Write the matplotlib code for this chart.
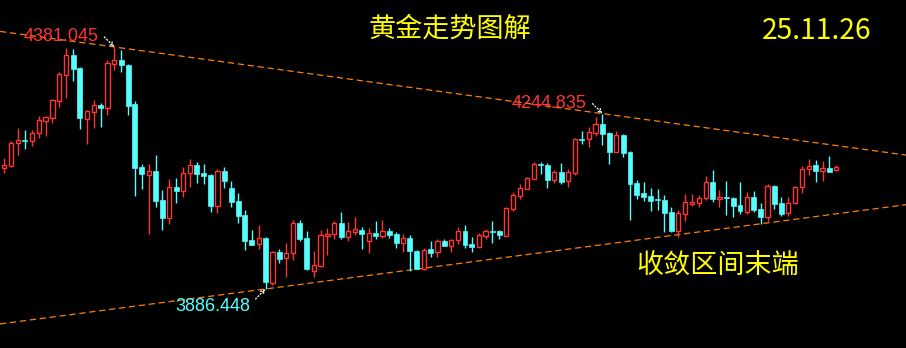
import matplotlib

matplotlib.use("Agg")

import numpy as np
import matplotlib.pyplot as plt

# gold candles, oldest first
opens = [4134, 4138, 4184, 4191, 4188, 4206, 4230, 4236, 4271, 4324,
         4365, 4338, 4234, 4249, 4262, 4257, 4347, 4354, 4344, 4264,
         4136, 4120, 4128, 4068, 4031, 4095, 4087, 4123, 4140, 4123,
         4119, 4057, 4128, 4093, 4066, 4038, 3986, 3979, 3991, 3899,
         3962, 3949, 3959, 4021, 3990, 3924, 3934, 3995, 3998, 4021,
         3992, 4003, 4008, 3985, 4000, 3995, 4004, 3999, 3981, 3990,
         3965, 3928, 3968, 3961, 3984, 3975, 3986, 4005, 3978, 3973,
         3995, 4005, 4005, 3995, 4050, 4077, 4091, 4112, 4142, 4140,
         4109, 4125, 4108, 4124, 4194, 4192, 4206, 4224, 4205, 4167,
         4202, 4166, 4103, 4082, 4076, 4070, 4068, 4044, 4005, 4040,
         4061, 4063, 4072, 4106, 4071, 4074, 4072, 4058, 4044, 4074,
         4050, 4034, 4097, 4062, 4041, 4062, 4094, 4131, 4140, 4128,
         4134, 4129]
highs = [4154, 4188, 4216, 4211, 4211, 4240, 4241, 4274, 4329, 4379,
         4376, 4340, 4252, 4273, 4266, 4354, 4381.045, 4375, 4346, 4271,
         4142, 4142, 4160, 4089, 4111, 4113, 4136, 4152, 4146, 4142,
         4122, 4131, 4136, 4107, 4083, 4048, 4007, 4017, 3992, 3965,
         3968, 3980, 4027, 4027, 4005, 3964, 4008, 4012, 4025, 4043,
         4023, 4033, 4013, 4012, 4025, 4027, 4012, 4003, 3999, 3997,
         3967, 3970, 3984, 3988, 3989, 3989, 4013, 4017, 3993, 4000,
         4010, 4025, 4008, 4055, 4085, 4102, 4116, 4145, 4145, 4144,
         4130, 4144, 4132, 4195, 4209, 4218, 4237, 4244.835, 4207, 4209,
         4203, 4168, 4109, 4105, 4093, 4091, 4078, 4053, 4048, 4081,
         4081, 4078, 4117, 4130, 4089, 4107, 4075, 4105, 4085, 4087,
         4062, 4100, 4099, 4074, 4074, 4096, 4138, 4153, 4150, 4147,
         4158, 4140]
lows = [4124, 4136, 4160, 4173, 4179, 4195, 4199, 4226, 4259, 4277,
        4312, 4214, 4183, 4216, 4217, 4243, 4335, 4330, 4242, 4076,
        4091, 3999, 4053, 4007, 4019, 4063, 4075, 4095, 4104, 4102,
        4044, 4042, 4093, 4055, 4022, 3967, 3976, 3969, 3886.448, 3895,
        3940, 3911, 3946, 3985, 3926, 3911, 3931, 3956, 3988, 3988,
        3985, 3997, 3969, 3959, 3989, 3991, 3991, 3970, 3963, 3923,
        3927, 3925, 3952, 3952, 3974, 3961, 3979, 3971, 3961, 3972,
        3988, 3981, 3989, 3994, 4046, 4070, 4090, 4111, 4121, 4093,
        4103, 4100, 4095, 4119, 4183, 4177, 4200, 4181, 4142, 4166,
        4156, 4028, 4071, 4067, 4046, 4047, 4003, 4003, 3993, 4026,
        4056, 4053, 4068, 4064, 4053, 4038, 4034, 4040, 4040, 4044,
        4019, 4026, 4050, 4036, 4036, 4061, 4083, 4120, 4105, 4108,
        4125, 4128]
closes = [4139, 4184, 4191, 4189, 4205, 4231, 4237, 4273, 4326, 4364,
          4336, 4235, 4250, 4262, 4257, 4348, 4354, 4345, 4260, 4134,
          4121, 4127, 4066, 4031, 4094, 4087, 4123, 4140, 4122, 4118,
          4057, 4127, 4108, 4065, 4036, 3985, 3977, 3990, 3901, 3961,
          3948, 3959, 4021, 3989, 3927, 3935, 3996, 3998, 4021, 3993,
          4004, 4010, 3999, 4000, 3995, 4004, 3997, 3981, 3990, 3965,
          3928, 3967, 3960, 3984, 3975, 3986, 4004, 3977, 3973, 3996,
          4004, 4003, 3997, 4051, 4078, 4092, 4113, 4141, 4139, 4110,
          4125, 4105, 4125, 4194, 4191, 4207, 4223, 4204, 4167, 4201,
          4165, 4102, 4079, 4075, 4067, 4068, 4042, 4005, 4041, 4064,
          4064, 4072, 4106, 4071, 4074, 4072, 4057, 4046, 4074, 4048,
          4034, 4096, 4061, 4040, 4062, 4094, 4131, 4137, 4128, 4133,
          4125.5, 4135]

# marked extremes: (candle index, price, label)
top_left = (16, 4381.045, "4381.045")
top_right = (87, 4244.835, "4244.835")
bottom = (38, 3886.448, "3886.448")
# lower edge of the triangle, second anchor
lower_anchor = (121, 4040)

title = "黄金走势图解"
date_label = "25.11.26"
note = "收敛区间末端"

UP = "#ff3434"
DOWN = "#55ffff"
YELLOW = "#ffff00"
ORANGE = "#ff8000"
CJK = ["Noto Sans CJK SC", "DejaVu Sans"]

o = np.array(opens, dtype=float)
h = np.array(highs, dtype=float)
l = np.array(lows, dtype=float)
c = np.array(closes, dtype=float)
x = np.arange(len(o))
up = c >= o
body_lo = np.minimum(o, c)
body_hi = np.maximum(o, c)

fig = plt.figure(figsize=(9.06, 3.48), dpi=100)
fig.patch.set_facecolor("black")
ax = fig.add_axes([0, 0, 1, 1])
ax.set_facecolor("black")
ax.axis("off")

colors = np.where(up, UP, DOWN)
ax.vlines(x, body_hi, h, colors=colors, lw=1, zorder=2)
ax.vlines(x, l, body_lo, colors=colors, lw=1, zorder=2)
ax.bar(x[up], (body_hi - body_lo)[up], bottom=body_lo[up], width=0.62,
       facecolor="black", edgecolor=UP, linewidth=1, zorder=3)
ax.bar(x[~up], (body_hi - body_lo)[~up], bottom=body_lo[~up], width=0.72,
       facecolor=DOWN, edgecolor=DOWN, linewidth=0.5, zorder=3)

# triangle edges
ax.axline(top_left[:2], top_right[:2], color=ORANGE, lw=0.9, dashes=(5, 3), zorder=1)
ax.axline(bottom[:2], lower_anchor, color=ORANGE, lw=0.9, dashes=(5, 3), zorder=1)

ax.set_xlim(-0.625, 131.14)
ax.set_ylim(3765.8, 4477.1)

arrow = dict(arrowstyle="->", color="white", lw=0.9, linestyle=":",
             shrinkA=0, shrinkB=0, mutation_scale=7)
for (i, p, _), off in [(top_left, (-10, 10)), (top_right, (-10, 10)), (bottom, (-10, -10))]:
    ax.annotate("", xy=(i, p), xytext=off, textcoords="offset pixels",
                arrowprops=arrow, zorder=5)

label_font = dict(fontsize=13, family="Liberation Sans", ha="left", va="baseline")
ax.text(0.0265, 0.882, top_left[2], transform=ax.transAxes, color=UP, **label_font)
ax.text(0.565, 0.689, top_right[2], transform=ax.transAxes, color=UP, **label_font)
ax.text(0.193, 0.107, bottom[2], transform=ax.transAxes, color=DOWN, **label_font)

ax.text(0.4967, 0.917, title, transform=ax.transAxes, color=YELLOW,
        fontsize=19.5, family=CJK, ha="center", va="center")
ax.text(0.841, 0.887, date_label, transform=ax.transAxes, color=YELLOW,
        fontsize=20.3, family=CJK, ha="left", va="baseline")
ax.text(0.7925, 0.236, note, transform=ax.transAxes, color=YELLOW,
        fontsize=19.5, family=CJK, ha="center", va="center")

fig.savefig("out.png", dpi=100, facecolor="black")
plt.close(fig)
